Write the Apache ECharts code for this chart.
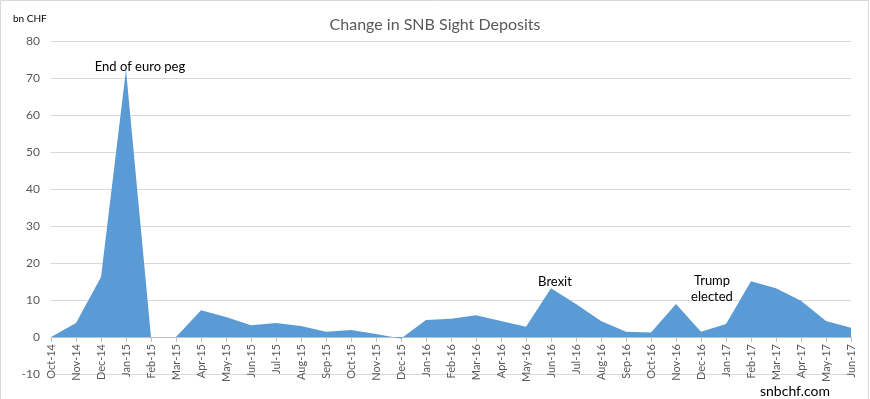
<!DOCTYPE html>
<html>
<head>
<meta charset="utf-8">
<script src="https://cdn.jsdelivr.net/npm/echarts@6/dist/echarts.min.js"></script>
<style>
  html, body { margin: 0; padding: 0; background: #fff; }
  #chart { width: 870px; height: 399px; }
</style>
</head>
<body>
<div id="chart"></div>
<script>
// monthly change in sight deposits, bn CHF
let months = [
	'Oct-14', 'Nov-14', 'Dec-14',
	'Jan-15', 'Feb-15', 'Mar-15', 'Apr-15', 'May-15', 'Jun-15', 'Jul-15', 'Aug-15', 'Sep-15', 'Oct-15', 'Nov-15', 'Dec-15',
	'Jan-16', 'Feb-16', 'Mar-16', 'Apr-16', 'May-16', 'Jun-16', 'Jul-16', 'Aug-16', 'Sep-16', 'Oct-16', 'Nov-16', 'Dec-16',
	'Jan-17', 'Feb-17', 'Mar-17', 'Apr-17', 'May-17', 'Jun-17'
];
let changes = [
	0, 3.8, 16.2,
	72.2, 0, 0, 7.2, 5.4, 3.2, 3.8, 3.0, 1.4, 1.9, 0.8, -0.4,
	4.6, 4.9, 5.9, 4.3, 2.8, 13.2, 8.9, 4.3, 1.4, 1.2, 8.9, 1.4,
	3.5, 15.1, 13.2, 9.8, 4.3, 2.5
];
let yTicks = { min: -10, max: 80, interval: 10 };
let events = [
	{ month: 'Jan-15', text: 'End of euro peg', offset: [14, 10] },
	{ month: 'Jun-16', text: 'Brexit', offset: [4, 7] },
	{ month: 'Nov-16', text: 'Trump\nelected', offset: [36, 6] }
];

let font = 'Lato, "Open Sans", sans-serif';
let chart = echarts.init(document.getElementById('chart'));
let option = {
	animation: false,
	textStyle: { fontFamily: font },
	title: {
		text: 'Change in SNB Sight Deposits',
		left: 'center',
		top: 12,
		textStyle: { fontFamily: font, fontSize: 16, fontWeight: 'normal', color: '#595959' }
	},
	grid: { left: 51, right: 19, top: 41, bottom: 25, outerBoundsMode: 'none', containLabel: false },
	xAxis: {
		type: 'category',
		data: months,
		boundaryGap: false,
		// axis sits on the zero line, one band above the bottom of the grid
		offset: -37,
		axisLine: { onZero: false, lineStyle: { color: '#bfbfbf' } },
		axisTick: { show: true, alignWithLabel: true, length: 5, lineStyle: { color: '#bfbfbf' } },
		axisLabel: { rotate: 90, interval: 0, fontSize: 11, color: '#595959', margin: 7, fontFamily: font },
		splitLine: { show: false }
	},
	yAxis: {
		type: 'value',
		min: yTicks.min,
		max: yTicks.max,
		interval: yTicks.interval,
		axisLine: { show: false },
		axisTick: { show: false },
		axisLabel: { fontSize: 12, color: '#595959', margin: 11, fontFamily: font },
		splitLine: { lineStyle: { color: '#d9d9d9' } }
	},
	series: [{
		type: 'line',
		data: changes,
		symbol: 'none',
		lineStyle: { width: 0 },
		areaStyle: { color: '#5b9bd5', opacity: 1 },
		markPoint: {
			symbol: 'circle',
			symbolSize: 0,
			label: { show: true, position: 'top', color: '#000', fontSize: 13, fontFamily: font, lineHeight: 16 },
			data: events.map(e => ({
				coord: [e.month, changes[months.indexOf(e.month)]],
				label: { formatter: e.text, offset: e.offset }
			}))
		}
	}],
	graphic: [
		{ type: 'rect', shape: { x: 0.5, y: 0.5, width: 868, height: 410 }, style: { fill: 'none', stroke: '#d9d9d9', lineWidth: 1 }, silent: true },
		{ type: 'text', left: 13, top: 14, style: { text: 'bn CHF', fontSize: 10, fill: '#000', fontFamily: font } },
		{ type: 'text', left: 760, top: 384, style: { text: 'snbchf.com', fontSize: 14, fill: '#000', fontFamily: font } }
	]
};
chart.setOption(option);
</script>
</body>
</html>
